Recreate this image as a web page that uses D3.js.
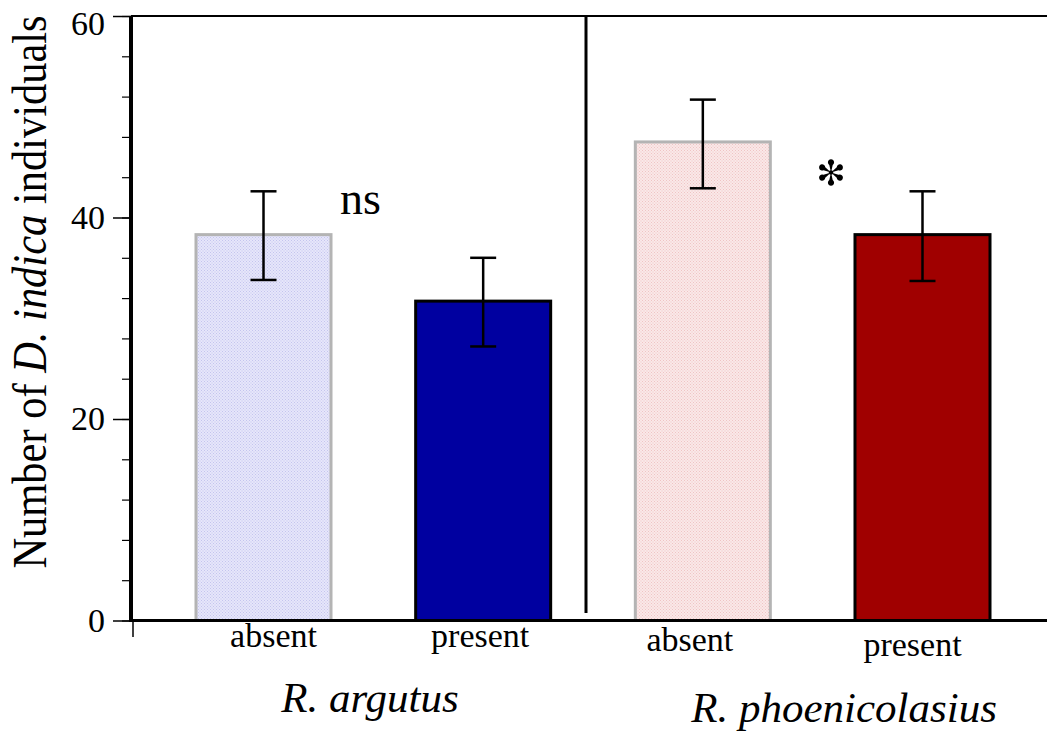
<!DOCTYPE html>
<html>
<head>
<meta charset="utf-8">
<script src="https://cdn.jsdelivr.net/npm/d3@7"></script>
<style>
  body { margin: 0; background: #fff; }
  text { font-family: "Liberation Serif", "Times New Roman", serif; fill: #000; }
</style>
</head>
<body>
<script>
// DATA
const categories = ['absent', 'present', 'absent ', 'present '];
const groups = ['R. argutus', 'R. phoenicolasius'];
const means = [38.3, 31.7, 47.5, 38.3];
const errTop = [42.6, 36.0, 51.7, 42.6];
const errBottom = [33.8, 27.2, 42.9, 33.7];
const barFills = ['url(#dotBlue)', '#0000a0', 'url(#dotRed)', '#a00000'];
const barStrokes = ['#b4b4b4', '#000', '#b4b4b4', '#000'];
const majorTicks = [0, 20, 40, 60];
const minorTicks = d3.range(0, 61, 4);

// Layout
const width = 1047;
const height = 733;

const svg = d3.select('body')
  .append('svg')
  .attr('width', width)
  .attr('height', height);

// dot textures for the light bars
const defs = svg.append('defs');
function dotPattern(id, bg, dot) {
  const p = defs.append('pattern')
    .attr('id', id)
    .attr('width', 3).attr('height', 3)
    .attr('patternUnits', 'userSpaceOnUse');
  p.append('rect').attr('width', 3).attr('height', 3).attr('fill', bg);
  p.append('rect').attr('width', 1).attr('height', 1).attr('fill', dot);
  p.append('rect').attr('x', 1.5).attr('y', 1.5).attr('width', 1).attr('height', 1).attr('fill', dot);
}
dotPattern('dotBlue', '#e6e6fa', '#c4c4ee');
dotPattern('dotRed', '#fae8e8', '#efc4c4');

// Scales
const y = d3.scaleLinear().domain([0, 60]).range([620.5, 16]);
const x = d3.scaleBand()
  .domain(categories)
  .range([196, 990])
  .paddingInner(0.3854)
  .paddingOuter(0);

const axisX = 131;

// top frame line
svg.append('line')
  .attr('x1', axisX).attr('x2', width)
  .attr('y1', y(60)).attr('y2', y(60))
  .attr('stroke', '#000').attr('stroke-width', 2);

// divider between the two species
svg.append('line')
  .attr('x1', 586).attr('x2', 586)
  .attr('y1', y(60)).attr('y2', 613)
  .attr('stroke', '#000').attr('stroke-width', 3);

// Bars
svg.append('g')
  .selectAll('rect')
  .data(means)
  .join('rect')
  .attr('x', (d, i) => x(categories[i]))
  .attr('y', d => y(d))
  .attr('width', x.bandwidth())
  .attr('height', d => y(0) - y(d))
  .attr('fill', (d, i) => barFills[i])
  .attr('stroke', (d, i) => barStrokes[i])
  .attr('stroke-width', 3);

// Error bars
const eb = svg.append('g').attr('stroke', '#000').attr('stroke-width', 2.5);
means.forEach((m, i) => {
  const cx = x(categories[i]) + x.bandwidth() / 2;
  eb.append('line').attr('x1', cx).attr('x2', cx).attr('y1', y(errTop[i])).attr('y2', y(errBottom[i]));
  eb.append('line').attr('x1', cx - 13).attr('x2', cx + 13).attr('y1', y(errTop[i])).attr('y2', y(errTop[i]));
  eb.append('line').attr('x1', cx - 13).attr('x2', cx + 13).attr('y1', y(errBottom[i])).attr('y2', y(errBottom[i]));
});

// Y axis: minor ticks, then major ticks with labels
svg.append('g')
  .attr('transform', `translate(${axisX},0)`)
  .call(d3.axisLeft(y).tickValues(minorTicks).tickSize(9).tickFormat(''))
  .call(g => g.select('.domain').remove())
  .call(g => g.selectAll('line').attr('stroke-width', 1.2));

svg.append('g')
  .attr('transform', `translate(${axisX},0)`)
  .call(d3.axisLeft(y).tickValues(majorTicks).tickSize(18).tickPadding(8))
  .call(g => g.select('.domain').remove())
  .call(g => g.selectAll('line').attr('stroke-width', 1.5))
  .call(g => g.selectAll('text')
    .style('font-family', '"Liberation Serif", serif')
    .attr('font-size', 34)
    .attr('fill', '#000')
    .attr('dy', d => d === 60 ? '0.55em' : '0.32em'));

// y axis line
svg.append('line')
  .attr('x1', axisX).attr('x2', axisX)
  .attr('y1', y(60)).attr('y2', y(0) + 1.5)
  .attr('stroke', '#000').attr('stroke-width', 4);

// x axis line
svg.append('line')
  .attr('x1', axisX).attr('x2', width)
  .attr('y1', y(0)).attr('y2', y(0))
  .attr('stroke', '#000').attr('stroke-width', 3);

// little tick under origin
svg.append('line')
  .attr('x1', 133).attr('x2', 133)
  .attr('y1', y(0)).attr('y2', 637)
  .attr('stroke', '#000').attr('stroke-width', 1.5);

// Category labels
const catOffsets = [{dx: 10, y: 647}, {dx: -3, y: 647}, {dx: -13, y: 651}, {dx: -10, y: 656}];
svg.append('g')
  .selectAll('text')
  .data(categories)
  .join('text')
  .attr('x', (d, i) => x(d) + x.bandwidth() / 2 + catOffsets[i].dx)
  .attr('y', (d, i) => catOffsets[i].y)
  .attr('text-anchor', 'middle')
  .attr('font-size', 34)
  .text(d => d.trim());

// Group labels
const groupPos = [{x: 370, y: 712}, {x: 844, y: 722}];
svg.append('g')
  .selectAll('text')
  .data(groups)
  .join('text')
  .attr('x', (d, i) => groupPos[i].x)
  .attr('y', (d, i) => groupPos[i].y)
  .attr('text-anchor', 'middle')
  .attr('font-size', 43)
  .attr('font-style', 'italic')
  .text(d => d);

// Significance marks
svg.append('text')
  .attr('x', 340)
  .attr('y', 214)
  .attr('font-size', 46)
  .text('ns');

// teardrop asterisk (six spokes)
const star = svg.append('g')
  .attr('transform', 'translate(831,172.5)');
d3.range(6).forEach(k => {
  star.append('path')
    .attr('transform', `rotate(${k * 60})`)
    .attr('d', 'M0,0 L-1.7,-7.6 A3.1,3.1 0 1 1 1.7,-7.6 Z')
    .attr('fill', '#000');
});
star.append('circle').attr('r', 2.2).attr('fill', '#000');

// Y label
const yl = svg.append('text')
  .attr('transform', 'translate(46,292) rotate(-90) scale(0.885,1)')
  .attr('text-anchor', 'middle')
  .attr('font-size', 48);
yl.append('tspan').text('Number of ');
yl.append('tspan').attr('font-style', 'italic').text('D. indica');
yl.append('tspan').text(' individuals');
</script>
</body>
</html>
